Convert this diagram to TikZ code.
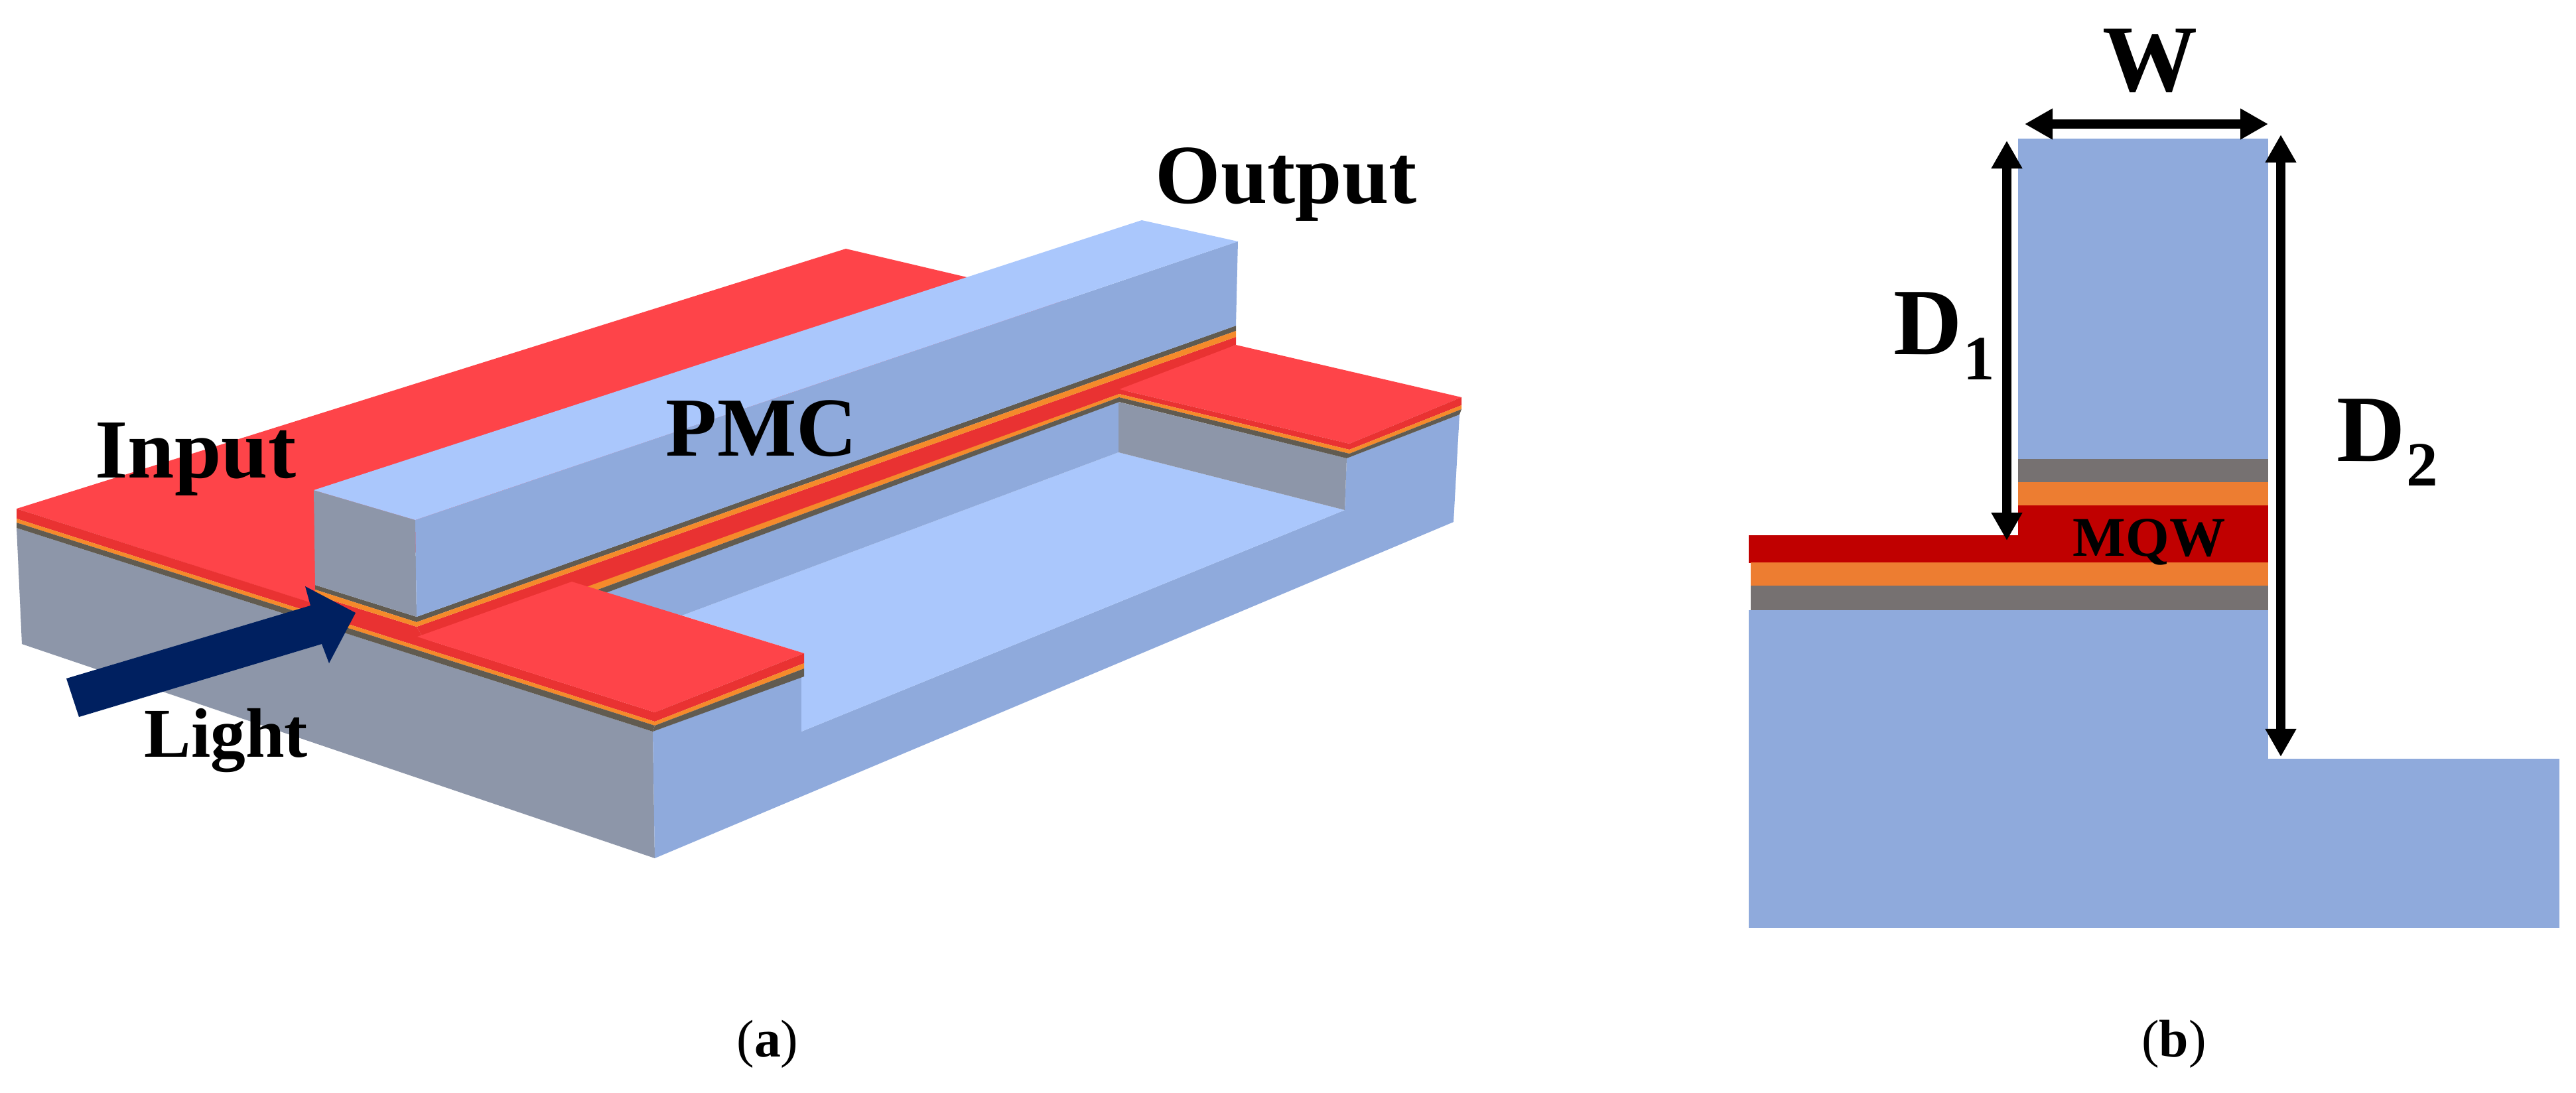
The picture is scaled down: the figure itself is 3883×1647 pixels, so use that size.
\documentclass[tikz,border=0pt]{standalone}
\usepackage{fontspec}
\setmainfont{Liberation Serif}
\usepackage{tikz}
\usetikzlibrary{
    arrows.meta,
    positioning
}
\definecolor{topred}{HTML}{FE4449}
\definecolor{edgered}{HTML}{E93232}
\definecolor{edgeorange}{HTML}{F58A2B}
\definecolor{edgegrey}{HTML}{615B50}
\definecolor{sidegrey}{HTML}{8D96A9}
\definecolor{sideblue}{HTML}{8FAADC}
\definecolor{liteblue}{HTML}{AAC7FC}
\definecolor{navyarrow}{HTML}{002060}
\definecolor{mqwred}{HTML}{C00000}
\definecolor{cladorange}{HTML}{ED7D31}
\definecolor{contactgrey}{HTML}{767171}
\tikzset{
    biglabel/.style = {
        font=\bfseries\fontsize{36}{36}\selectfont,
        inner sep=0pt,
        anchor=base west
    },
    dimlabel/.style = {
        font=\bfseries\fontsize{40.7}{40.7}\selectfont,
        inner sep=0pt,
        anchor=base west
    },
    sublabel/.style = {
        font=\bfseries\fontsize{27}{27}\selectfont,
        inner sep=0pt,
        anchor=base west
    },
    caption/.style = {
        font=\fontsize{22.7}{22.7}\selectfont,
        inner sep=0pt,
        anchor=base
    },
    dimarrow/.style = {
        {Triangle[length=4.2mm,width=4.4mm]}-{Triangle[length=4.2mm,width=4.4mm]},
        line width=1.45mm
    }
}
\begin{document}
\begin{tikzpicture}[x=0.01cm,y=-0.01cm]
\useasboundingbox (0,0) rectangle (3883,1647);
% (a) base block
\fill[sidegrey] (25,796) -- (984,1103) -- (987,1294) -- (33,971) -- cycle;
\fill[sideblue] (984,1103) -- (987,1294) -- (2191,787) -- (2200,625) -- (2030,691)
    -- (2027,769) -- (1208,1103) -- (1208,1020) -- cycle;
% etched floor and walls
\fill[liteblue] (1028,928) -- (1686,682) -- (2027,769) -- (1208,1103) -- (1208,1020)
    -- (1212,985) -- cycle;
\fill[sideblue] (905,897) -- (1686,606) -- (1686,682) -- (1028,928) -- cycle;
\fill[sidegrey] (1686,606) -- (2030,691) -- (2027,769) -- (1686,682) -- cycle;
% left slab
\fill[topred] (25,767) -- (1275,375) -- (1721,480) -- (475,882) -- (475,911) -- cycle;
\fill[edgered] (25,767) -- (987,1074) -- (987,1088) -- (25,782) -- cycle;
\fill[edgeorange] (25,782) -- (987,1088) -- (987,1094) -- (25,788) -- cycle;
\fill[edgegrey] (25,788) -- (987,1094) -- (984,1103) -- (25,796) -- cycle;
\fill[edgered] (475,897) -- (628,945) -- (640,965) -- (475,911) -- cycle;
% strip under the ridge
\fill[edgered] (628,945) -- (1863,508) -- (1863,520) -- (1687,594) -- (881,890) -- (640,965) -- cycle;
\fill[edgeorange] (881,886) -- (1687,594) -- (1687,599) -- (893,892) -- cycle;
\fill[edgegrey] (893,892) -- (1687,599) -- (1687,606) -- (905,897) -- cycle;
\fill[edgegrey] (475,882) -- (628,930) -- (1863,491) -- (1863,499) -- (628,938) -- (475,889) -- cycle;
\fill[edgeorange] (475,889) -- (628,938) -- (1863,499) -- (1863,508) -- (628,945) -- (475,897) -- cycle;
% near pad
\fill[topred] (629,960) -- (862,877) -- (1212,985) -- (987,1074) -- cycle;
\fill[edgered] (987,1074) -- (1212,985) -- (1212,1000) -- (987,1088) -- cycle;
\fill[edgeorange] (987,1088) -- (1212,1000) -- (1212,1008) -- (987,1094) -- cycle;
\fill[edgegrey] (987,1094) -- (1212,1008) -- (1212,1020) -- (984,1103) -- cycle;
% far pad
\fill[topred] (1863,520) -- (2203,599) -- (2034,669) -- (1687,587) -- cycle;
\fill[edgered] (1687,587) -- (2034,669) -- (2203,599) -- (2203,611) -- (2034,678) -- (1687,594) -- cycle;
\fill[edgeorange] (1687,594) -- (2034,678) -- (2203,611) -- (2203,617) -- (2034,684) -- (1687,599) -- cycle;
\fill[edgegrey] (1687,599) -- (2034,684) -- (2203,617) -- (2200,625) -- (2030,691) -- (1687,606) -- cycle;
% PMC ridge
\fill[sidegrey] (473,739) -- (626,784) -- (628,930) -- (475,882) -- cycle;
\fill[sideblue] (626,784) -- (1866,364) -- (1863,491) -- (628,930) -- cycle;
\fill[liteblue] (473,739) -- (626,784) -- (1866,364) -- (1721,332) -- cycle;
% light arrow
\fill[navyarrow] (100,1023) -- (468,913) -- (460,884) -- (536,924) -- (496,1000)
    -- (485,971) -- (119,1081) -- cycle;
\node[biglabel] (Input) at (143,720) {Input};
\node[biglabel] (Output) at (1741,306) {Output};
\node[biglabel] (PMC) at (1003,687) {PMC};
\node[biglabel,font=\bfseries\fontsize{30}{30}\selectfont] (Light) at (217,1141) {Light};
% (b) cross section
\fill[sideblue] (2636,920) rectangle (3419,1399);
\fill[sideblue] (3419,1144) rectangle (3858,1399);
\fill[sideblue] (3042,209) rectangle (3419,692);
\fill[contactgrey] (3042,692) rectangle (3419,727);
\fill[cladorange] (3042,727) rectangle (3419,762);
\fill[mqwred] (3042,762) rectangle (3419,848);
\fill[mqwred] (2636,807) rectangle (3042,849);
\fill[cladorange] (2639,848) rectangle (3419,883);
\fill[contactgrey] (2639,883) rectangle (3419,920);
\node[biglabel,font=\bfseries\fontsize{24}{24}\selectfont] (MQW) at (3124,838) {MQW};
% dimensions
\coordinate (Wl) at (3052,187);
\coordinate (Wr) at (3419,187);
\coordinate (Dat) at (3025,212);
\coordinate (Dab) at (3025,815);
\coordinate (Dbt) at (3438,203);
\coordinate (Dbb) at (3438,1141);
\draw[dimarrow] (Wl) -- (Wr);
\draw[dimarrow] (Dat) -- (Dab);
\draw[dimarrow] (Dbt) -- (Dbb);
\node[dimlabel] (Wlab) at (3169,137) {W};
\node[dimlabel] (Dalab) at (2854,534) {D};
\node[sublabel] (Dasub) at (2959,572) {1};
\node[dimlabel] (Dblab) at (3522,695) {D};
\node[sublabel] (Dbsub) at (3627,732) {2};
% captions
\node[caption] (capa) at (1157,1593) {(\textbf{a})};
\node[caption] (capb) at (3277,1593) {(\textbf{b})};
\end{tikzpicture}
\end{document}
